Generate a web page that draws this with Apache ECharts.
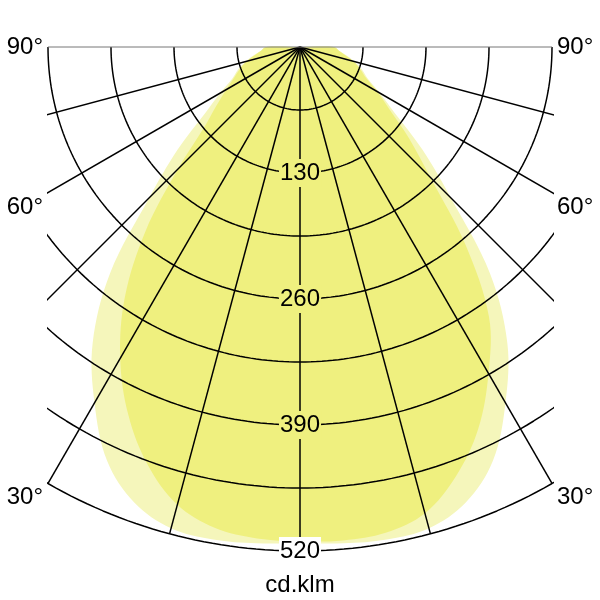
<!DOCTYPE html>
<html><head><meta charset="utf-8">
<script src="https://cdn.jsdelivr.net/npm/echarts@6/dist/echarts.min.js"></script>
<style>html,body{margin:0;padding:0;background:#fff}#c{width:600px;height:600px}</style>
</head><body><div id="c"></div>
<script>
// Angles (deg from nadir) at which the curves were read
const curveAngles = [0,5,10,15,20,25,30,35,40,45,50,55,60,65,70,75,80,85,90];
// Intensity values (cd/klm)
const lightCurve = [512,514,516,514,500,471,424,373,305,220,165,120,95,77,68,58,48,40,35];
const darkLeft   = [510,509,504,489,459,419,371,315,248,178,129,105,88,75,66,57,47,40,35];
const darkRight  = [510,511,509,498,471,435,389,340,265,190,147,113,92,75,66,57,47,40,35];
// Grid
const rings = [65,130,195,260,325,390,455,520];
const ringLabels = [130,260,390,520];
const radialAngles = [-75,-60,-45,-30,-15,0,15,30,45,60,75];
const edgeAngles = [-90,90];
const angleLabels = ['90°','60°','30°'];
const unitLabel = 'cd.klm';

const DARK = '#eff07f', LIGHT = '#f5f6bb';
const FONT = 'Liberation Sans, Arial, sans-serif';
const TXT = '#000';

function pt(r, deg){ const a = deg*Math.PI/180; return [r*Math.sin(a), -r*Math.cos(a)]; }
function shape(left, right){
  const pts = [[0,0]];
  for (let i = curveAngles.length-1; i >= 0; i--) pts.push(pt(left[i], -curveAngles[i]));
  for (let i = 1; i < curveAngles.length; i++) pts.push(pt(right[i], curveAngles[i]));
  return pts;
}
function areaSeries(pts, color, z){
  return {
    type:'custom', z:z, silent:true, data:[[0,0]], clip:true,
    renderItem:(params, api) => ({
      type:'polygon',
      shape:{points: pts.map(p => api.coord(p)), smooth:0.35},
      style:{fill:color}
    })
  };
}
const series = [];
series.push(areaSeries(shape(lightCurve, lightCurve), LIGHT, 1));
series.push(areaSeries(shape(darkLeft, darkRight), DARK, 2));

const outer = rings[rings.length-1];
const arcSteps = [];
for (let a = -90; a <= 90; a += 1) arcSteps.push(a);
rings.forEach(r => {
  series.push({type:'line', z:3, silent:true, symbol:'none', clip:true,
    data: arcSteps.map(a => pt(r, a)),
    lineStyle:{color:'#000', width:1.5}});
});
radialAngles.forEach(a => {
  series.push({type:'line', z:3, silent:true, symbol:'none', clip:true,
    data:[[0,0], pt(outer, a)], lineStyle:{color:'#000', width:1.5}});
});
edgeAngles.forEach(a => {
  series.push({type:'line', z:3, silent:true, symbol:'none', clip:true,
    data:[[0,0], pt(outer/2, a)], lineStyle:{color:'#777', width:1}});
});
// ring value labels, placed through the axis scales
series.push({type:'custom', z:5, silent:true, clip:false,
  data: ringLabels.map(v => [0, -v]),
  renderItem:(params, api) => {
    const v = -api.value(1);
    const p = api.coord([api.value(0), api.value(1)]);
    return {type:'text', x:p[0], y:p[1],
      style:{text:String(v), font:'24px '+FONT, fill:TXT, align:'center', verticalAlign:'middle',
        backgroundColor: v === outer ? '#fff' : DARK, padding:[3,1,1,1]}};
  }
});

const labelY = [47, 207, 497];
const graphic = [];
angleLabels.forEach((t, i) => {
  graphic.push({type:'text', x:43, y:labelY[i], style:{text:t, font:'24px '+FONT, fill:TXT, textAlign:'right', textVerticalAlign:'middle'}});
  graphic.push({type:'text', x:557, y:labelY[i], style:{text:t, font:'24px '+FONT, fill:TXT, textAlign:'left', textVerticalAlign:'middle'}});
});
graphic.push({type:'text', x:300, y:585, style:{text:unitLabel, font:'24px '+FONT, fill:TXT, textAlign:'center', textVerticalAlign:'middle'}});

const pxPerCd = 504/520;
const yMin = -545, yMax = 3;
const gridTop = 47 - yMax*pxPerCd;
const gridH = (yMax - yMin)*pxPerCd;

const chart = echarts.init(document.getElementById('c'), null, {renderer:'canvas'});
chart.setOption({
  animation:false,
  backgroundColor:'#fff',
  grid:{left:48, right:48, top:gridTop, bottom:600-gridTop-gridH},
  xAxis:{type:'value', min:-260, max:260, show:false},
  yAxis:{type:'value', min:yMin, max:yMax, show:false},
  graphic:graphic,
  series:series
});
</script></body></html>
